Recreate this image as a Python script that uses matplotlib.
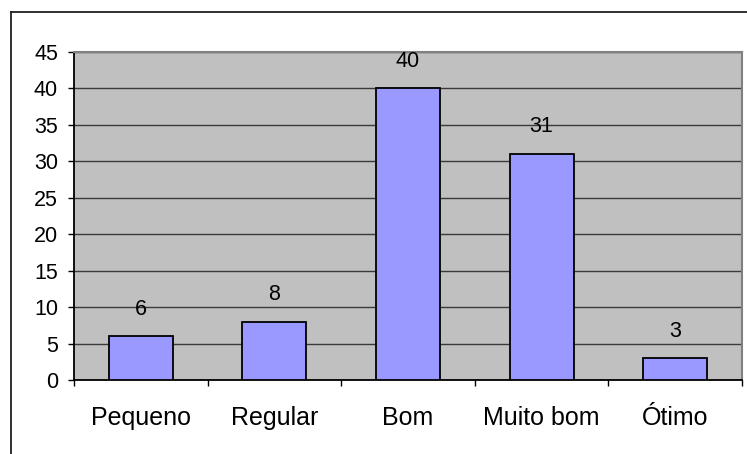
import matplotlib
matplotlib.use("Agg")
import matplotlib.pyplot as plt
from matplotlib.lines import Line2D

categories = ["Pequeno", "Regular", "Bom", "Muito bom", "Ótimo"]
values = [6, 8, 40, 31, 3]
yticks = [0, 5, 10, 15, 20, 25, 30, 35, 40, 45]

plt.rcParams['font.family'] = ['Liberation Sans', 'DejaVu Sans']

W, H = 747, 454
fig = plt.figure(figsize=(W / 100, H / 100), dpi=100)
fig.patch.set_facecolor('white')

ax = fig.add_axes([74 / W, (H - 380) / H, 668 / W, 328 / H])
ax.set_facecolor('#C0C0C0')

x = list(range(len(categories)))
ax.bar(x, values, width=0.48, color='#9999FF', edgecolor='black', linewidth=1.3, zorder=3)

for xi, v in zip(x, values):
    ax.annotate(str(v), (xi, v), xytext=(0, 19.5), textcoords='offset points',
                ha='center', va='center', fontsize=15.5, color='black', zorder=4)

ax.set_xlim(-0.5, len(categories) - 0.5)
ax.set_ylim(0, 45)
ax.set_yticks(yticks)
ax.set_yticklabels([str(t) for t in yticks], fontsize=15.5)
ax.yaxis.grid(True, color='#3a3a3a', linewidth=1.0, zorder=1)
ax.set_axisbelow(True)

ax.set_xticks([i + 0.5 for i in range(-1, len(categories))])
ax.set_xticklabels([])
ax.set_xticks(x, minor=True)
ax.set_xticklabels(categories, minor=True, fontsize=18)
ax.tick_params(axis='x', which='major', direction='out', length=4.5, width=1, color='black')
ax.tick_params(axis='x', which='minor', length=0, pad=19)
ax.tick_params(axis='y', direction='out', length=4.5, width=1, color='black', pad=7)

for s in ['left', 'bottom']:
    ax.spines[s].set_color('black')
    ax.spines[s].set_linewidth(1.3)
for s in ['top', 'right']:
    ax.spines[s].set_color('#808080')
    ax.spines[s].set_linewidth(1.5)

# outer chart frame (cut off at right and bottom in the reference)
fig.add_artist(Line2D([10.5 / W, 10.5 / W], [0, 1 - 11.5 / H], transform=fig.transFigure,
                      color='#202020', linewidth=1.3))
fig.add_artist(Line2D([10.5 / W, 1], [1 - 11.5 / H, 1 - 11.5 / H], transform=fig.transFigure,
                      color='#202020', linewidth=1.3))

fig.savefig('out.png', dpi=100)
